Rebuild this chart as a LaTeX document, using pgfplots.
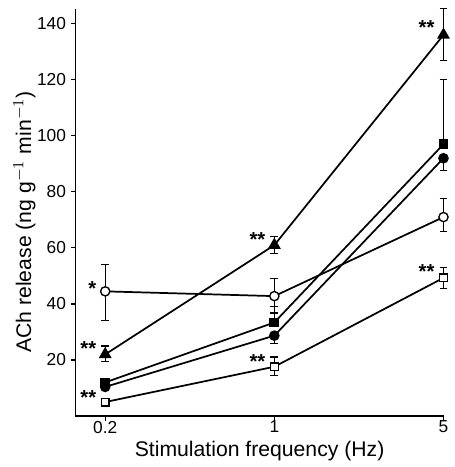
\documentclass[border=0pt]{standalone}
\usepackage{fontspec}
\setmainfont{Liberation Sans}
\usepackage{pgfplots}
\pgfplotsset{compat=1.18}
\begin{document}
\begin{tikzpicture}
\begin{axis}[
  name=ax,
  scale only axis,
  width=191pt, height=211pt,
  xmode=log, log basis x=10,
  xmin=0.151, xmax=5,
  ymin=0, ymax=145,
  xtick={0.2,1,5}, xticklabels={0.2,1,5},
  ytick={20,40,60,80,100,120,140},
  minor tick num=0,
  axis x line=bottom, axis y line=left,
  axis line style={-, line width=0.8pt},
  tick style={line width=0.6pt, black},
  tick align=outside,
  major tick length=2.5pt,
  /pgf/number format/assume math mode=true,
  tick label style={font=\fontsize{9}{11}\selectfont},
  xticklabel style={yshift=3.5pt},
  yticklabel style={xshift=1pt},
  label style={font=\fontsize{11}{13}\selectfont},
  xlabel style={at={(axis description cs:0.5,0)}, anchor=center, yshift=-18pt},
  ylabel style={at={(axis description cs:0,0.478)}, anchor=center, yshift=26.6pt},
  xlabel={Stimulation frequency (Hz)},
  ylabel={ACh release (ng g$^{-1}$ min$^{-1}$)},
  every axis plot/.append style={black, line width=0.9pt},
  error bars/y dir=both, error bars/y explicit,
  error bars/error bar style={line width=0.6pt},
  error bars/error mark options={rotate=90, mark size=2pt, line width=0.6pt},
  clip=false,
]
% open square
\addplot[mark=square*, mark options={fill=white, line width=0.7pt}, mark size=2pt]
  coordinates {(0.2,5) +=(0,0) -=(0,0) (1,17.6) +=(0,3.5) -=(0,3.2) (5,49.3) +=(0,3.7) -=(0,3.7)};
% filled circle
\addplot[mark=*, mark options={fill=black}, mark size=2.3pt]
  coordinates {(0.2,10.4) +=(0,0) -=(0,0) (1,28.7) +=(0,0) -=(0,2.7) (5,92) +=(0,0) -=(0,4.5)};
% filled square
\addplot[mark=square*, mark options={fill=black}, mark size=2.1pt]
  coordinates {(0.2,12) +=(0,0) -=(0,0) (1,33.4) +=(0,5.8) -=(0,0) (5,97) +=(0,23) -=(0,0)};
% open circle
\addplot[mark=*, mark options={fill=white, line width=0.7pt}, mark size=2.4pt]
  coordinates {(0.2,44.5) +=(0,9.5) -=(0,10.5) (1,42.8) +=(0,6.2) -=(0,6) (5,71) +=(0,6.6) -=(0,5)};
% filled triangle
\addplot[mark=triangle*, mark options={fill=black}, mark size=3pt]
  coordinates {(0.2,22) +=(0,3) -=(0,2.5) (1,61) +=(0,3) -=(0,3) (5,136) +=(0,9.5) -=(0,9)};
\begin{scope}[every node/.style={font=\bfseries\fontsize{10.5}{11}\selectfont, anchor=east, inner sep=0pt}]
\node at (axis cs:0.2,24) [xshift=-4.5pt] {**};
\node at (axis cs:1,63) [xshift=-4.5pt] {**};
\node at (axis cs:5,138.5) [xshift=-4.5pt] {**};
\node at (axis cs:0.2,45.5) [xshift=-4.5pt] {*};
\node at (axis cs:0.2,6.5) [xshift=-4.5pt] {**};
\node at (axis cs:1,19.5) [xshift=-4.5pt] {**};
\node at (axis cs:5,51.5) [xshift=-4.5pt] {**};
\end{scope}
\end{axis}
\draw[line width=0.8pt, black, line cap=rect] (ax.north west) -- (ax.south west) -- (ax.south east);
\path ([shift={(-39.3pt,-23pt)}]ax.south west) rectangle ([shift={(3.06pt,5.06pt)}]ax.north east);
\end{tikzpicture}
\end{document}
